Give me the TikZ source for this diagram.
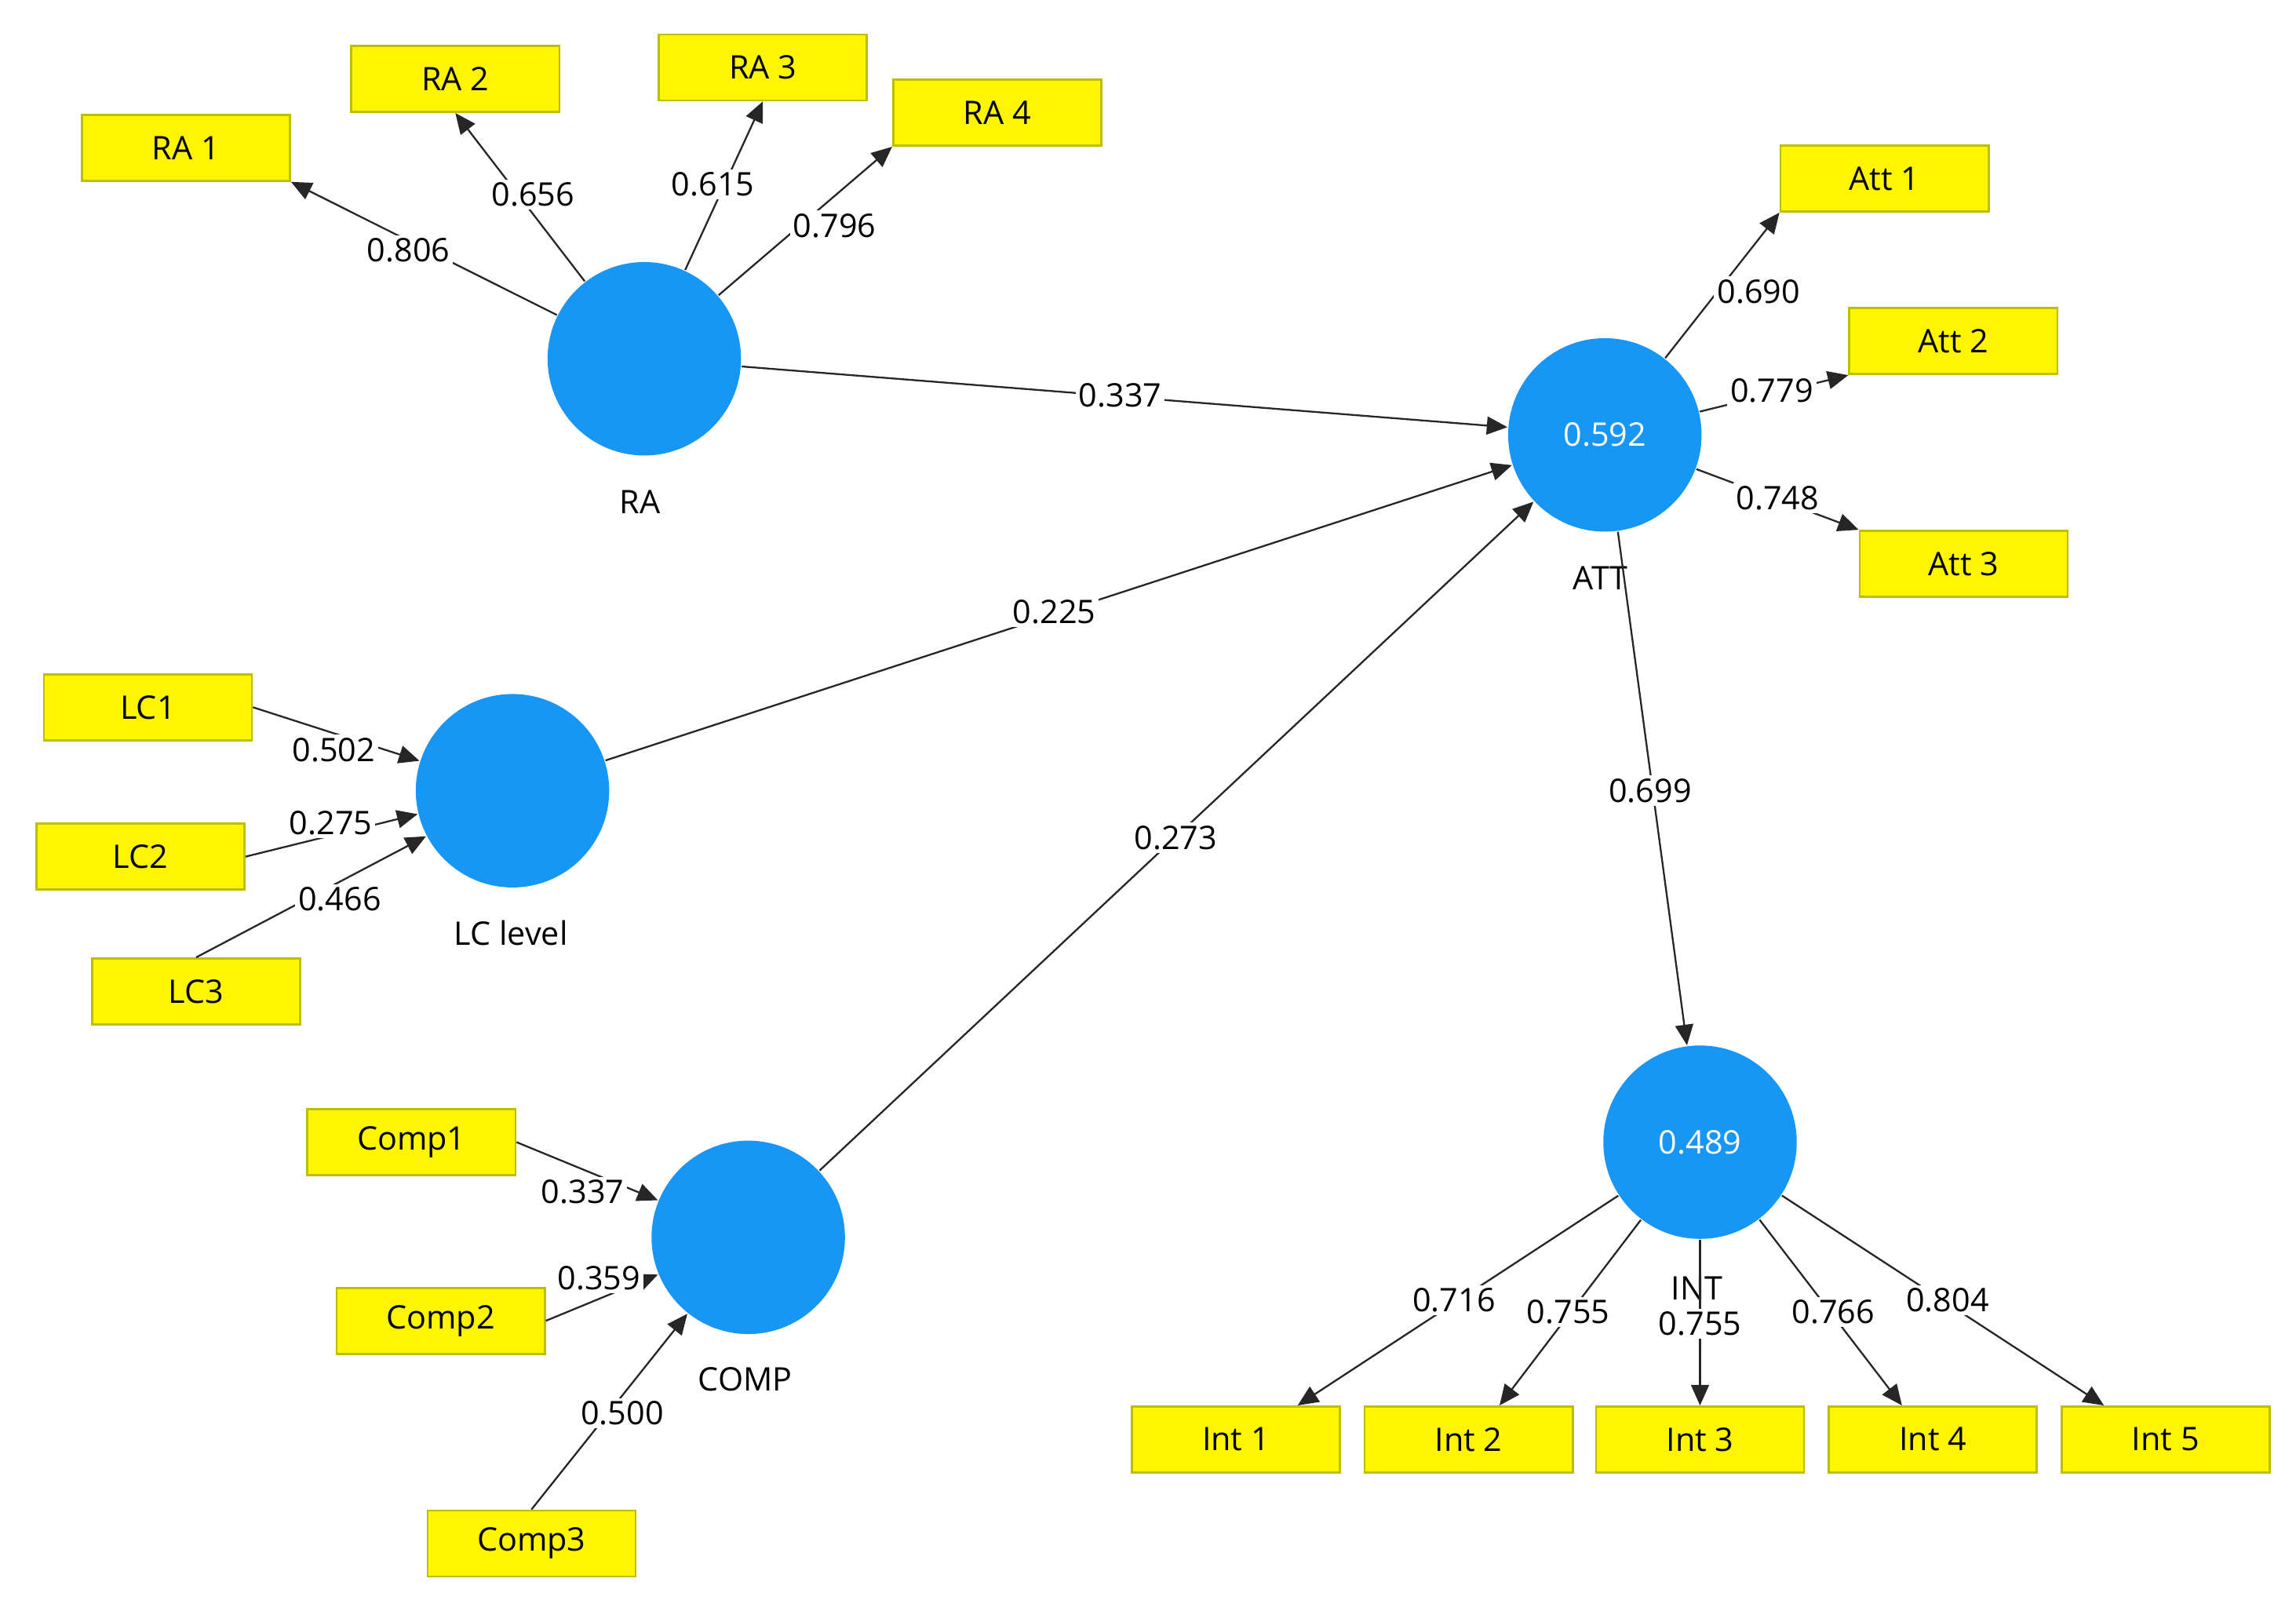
\documentclass[tikz,border=0pt]{standalone}
\usepackage{fontspec}
\setmainfont{Open Sans}
\usetikzlibrary{arrows.meta}
\begin{document}
\begin{tikzpicture}[x=0.01cm,y=-0.01cm,
  font=\fontsize{6.3}{7}\selectfont,
  lv/.style={circle,fill={rgb,255:red,23;green,150;blue,245},minimum size=1.32cm,inner sep=0pt,text=white},
  ind/.style={draw={rgb,255:red,190;green,190;blue,0},fill={rgb,255:red,255;green,245;blue,0},minimum width=1.42cm,minimum height=0.45cm,inner sep=0pt},
  ar/.style={draw=black!85,line width=0.35pt,-{Triangle[length=4pt,width=3.5pt]}},
  lab/.style={fill=white,inner sep=0.6pt}]
\useasboundingbox (0,0) rectangle (1568,1100);
\node[lv] (RA) at (440,245) {};
\node[lv] (ATT) at (1096,297) {0.592};
\node[lv] (LC) at (350,540) {};
\node[lv] (COMP) at (511,845) {};
\node[lv] (INT) at (1161,780) {0.489};
\node (tRA) at (437,343) {RA};
\node (tLC) at (349,637) {LC level};
\node (tCOMP) at (509,942) {COMP};
\node (tATT) at (1093,395) {ATT};
\node (tINT) at (1159,880) {INT};
\node[ind] (RA1) at (127,101) {RA 1};
\node[ind] (RA2) at (311,54) {RA 2};
\node[ind] (RA3) at (521,46) {RA 3};
\node[ind] (RA4) at (681,77) {RA 4};
\node[ind] (A1) at (1287,122) {Att 1};
\node[ind] (A2) at (1334,233) {Att 2};
\node[ind] (A3) at (1341,385) {Att 3};
\node[ind] (LC1) at (101,483) {LC1};
\node[ind] (LC2) at (96,585) {LC2};
\node[ind] (LC3) at (134,677) {LC3};
\node[ind] (C1) at (281,780) {Comp1};
\node[ind] (C2) at (301,902) {Comp2};
\node[ind] (C3) at (363,1054) {Comp3};
\node[ind] (I1) at (844,983) {Int 1};
\node[ind] (I2) at (1003,983) {Int 2};
\node[ind] (I3) at (1161,983) {Int 3};
\node[ind] (I4) at (1320,983) {Int 4};
\node[ind] (I5) at (1479,983) {Int 5};
\draw[ar] (RA) -- (RA1.south east);
\draw[ar] (RA) -- (RA2.south);
\draw[ar] (RA) -- (RA3.south);
\draw[ar] (RA) -- (RA4.south west);
\draw[ar] (ATT) -- (A1.south west);
\draw[ar] (ATT) -- (A2.south west);
\draw[ar] (ATT) -- (A3.north west);
\draw[ar] (LC1.east) -- (LC);
\draw[ar] (LC2.east) -- (LC);
\draw[ar] (LC3.north) -- (LC);
\draw[ar] (C1.east) -- (COMP);
\draw[ar] (C2.east) -- (COMP);
\draw[ar] (C3.north) -- (COMP);
\draw[ar] (INT) -- ([xshift=12pt]I1.north);
\draw[ar] (INT) -- ([xshift=6pt]I2.north);
\draw[ar] (INT) -- (I3.north);
\draw[ar] (INT) -- ([xshift=-6pt]I4.north);
\draw[ar] (INT) -- ([xshift=-12pt]I5.north);
\draw[ar] (RA) -- (ATT);
\draw[ar] (LC) -- (ATT);
\draw[ar] (COMP) -- (ATT);
\draw[ar] (ATT) -- (INT);
\node[lab] at (279,171) {0.806};
\node[lab] at (364,133) {0.656};
\node[lab] at (487,126) {0.615};
\node[lab] at (570,154) {0.796};
\node[lab] at (765,270) {0.337};
\node[lab] at (720,418) {0.225};
\node[lab] at (803,572) {0.273};
\node[lab] at (1127,540) {0.699};
\node[lab] at (1201,199) {0.690};
\node[lab] at (1210,267) {0.779};
\node[lab] at (1214,340) {0.748};
\node[lab] at (228,512) {0.502};
\node[lab] at (226,562) {0.275};
\node[lab] at (232,614) {0.466};
\node[lab] at (398,814) {0.337};
\node[lab] at (409,873) {0.359};
\node[lab] at (425,965) {0.500};
\node[lab] at (993,888) {0.716};
\node[lab] at (1071,896) {0.755};
\node[lab] at (1161,904) {0.755};
\node[lab] at (1252,896) {0.766};
\node[lab] at (1330,888) {0.804};
\end{tikzpicture}
\end{document}
